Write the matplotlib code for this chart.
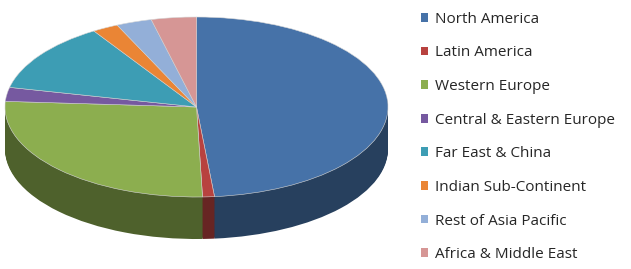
import matplotlib
matplotlib.use("Agg")
import matplotlib.pyplot as plt
from matplotlib.colors import to_rgb
from matplotlib.patches import Patch

# regional shares (%), clockwise from 12 o'clock
regions = ["North America", "Latin America", "Western Europe",
           "Central & Eastern Europe", "Far East & China",
           "Indian Sub-Continent", "Rest of Asia Pacific",
           "Africa & Middle East"]
shares = [48.5, 1.0, 26.5, 2.5, 12.5, 2.2, 3.0, 3.8]
colors = ["#4672a8", "#b8423f", "#8cae4f", "#7659a0",
          "#3d9db4", "#ea8535", "#93afd8", "#d69695"]


def darker(c, f):
    r, g, b = to_rgb(c)
    return (r * f, g * f, b * f)


fig = plt.figure(figsize=(6.31, 2.69), dpi=100)
ax = fig.add_axes([0, 0, 400 / 631, 1])

# pixel geometry of the tilted pie
sx = 191.5   # px per unit horizontally
sy = 90.0    # px per unit vertically
cx_px, cy_px = 196.5, 107.0
depth = 42.0 / sy

# side of the pie: stacked layers of darker wedges
n = 45
for i in range(n, 0, -1):
    d = depth * i / n
    ax.pie(shares, colors=[darker(c, 0.56) for c in colors],
           startangle=90, counterclock=False, center=(0, -d),
           wedgeprops=dict(linewidth=0), frame=True)

# top face
wedges, _ = ax.pie(shares, colors=colors, startangle=90, counterclock=False,
                   center=(0, 0), wedgeprops=dict(linewidth=0.4, edgecolor="#d8d8d8"),
                   frame=True)

ax.set_aspect("auto")
ax.set_xlim(-cx_px / sx, (400 - cx_px) / sx)
ax.set_ylim(-(269 - cy_px) / sy, cy_px / sy)
ax.axis("off")

handles = [Patch(facecolor=c, edgecolor="none") for c in colors]
fig.legend(handles, regions, loc="upper left",
           bbox_to_anchor=(410 / 631, 1 - 1 / 269), frameon=False,
           prop=dict(family="Open Sans", size=11), labelcolor="#262626",
           handlelength=0.5, handleheight=0.5, handletextpad=0.45,
           labelspacing=1.22, borderpad=0.2)

fig.savefig("out.png", dpi=100)
